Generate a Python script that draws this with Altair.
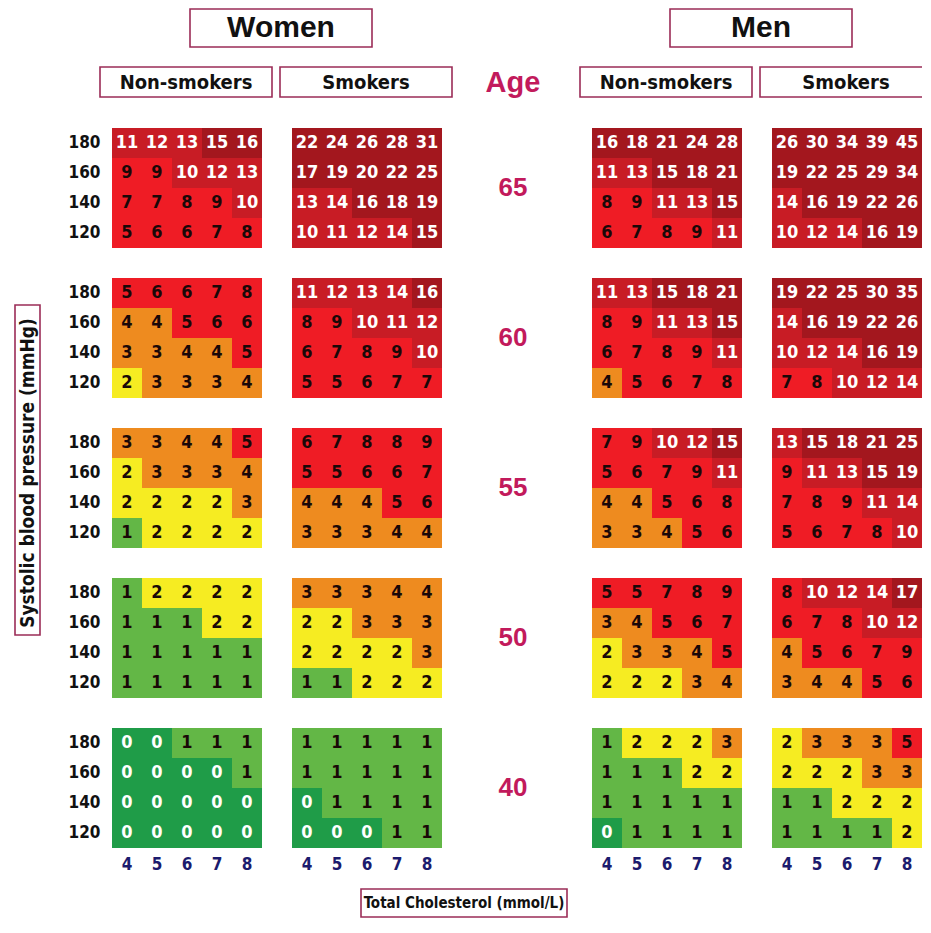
import altair as alt
import pandas as pd

# ---------------- data ----------------
chol_levels = [4, 5, 6, 7, 8]
sbp_levels = [180, 160, 140, 120]
age_levels = [65, 60, 55, 50, 40]

women_nonsmokers = {
    65: [[11, 12, 13, 15, 16], [9, 9, 10, 12, 13], [7, 7, 8, 9, 10], [5, 6, 6, 7, 8]],
    60: [[5, 6, 6, 7, 8], [4, 4, 5, 6, 6], [3, 3, 4, 4, 5], [2, 3, 3, 3, 4]],
    55: [[3, 3, 4, 4, 5], [2, 3, 3, 3, 4], [2, 2, 2, 2, 3], [1, 2, 2, 2, 2]],
    50: [[1, 2, 2, 2, 2], [1, 1, 1, 2, 2], [1, 1, 1, 1, 1], [1, 1, 1, 1, 1]],
    40: [[0, 0, 1, 1, 1], [0, 0, 0, 0, 1], [0, 0, 0, 0, 0], [0, 0, 0, 0, 0]],
}
women_smokers = {
    65: [[22, 24, 26, 28, 31], [17, 19, 20, 22, 25], [13, 14, 16, 18, 19], [10, 11, 12, 14, 15]],
    60: [[11, 12, 13, 14, 16], [8, 9, 10, 11, 12], [6, 7, 8, 9, 10], [5, 5, 6, 7, 7]],
    55: [[6, 7, 8, 8, 9], [5, 5, 6, 6, 7], [4, 4, 4, 5, 6], [3, 3, 3, 4, 4]],
    50: [[3, 3, 3, 4, 4], [2, 2, 3, 3, 3], [2, 2, 2, 2, 3], [1, 1, 2, 2, 2]],
    40: [[1, 1, 1, 1, 1], [1, 1, 1, 1, 1], [0, 1, 1, 1, 1], [0, 0, 0, 1, 1]],
}
men_nonsmokers = {
    65: [[16, 18, 21, 24, 28], [11, 13, 15, 18, 21], [8, 9, 11, 13, 15], [6, 7, 8, 9, 11]],
    60: [[11, 13, 15, 18, 21], [8, 9, 11, 13, 15], [6, 7, 8, 9, 11], [4, 5, 6, 7, 8]],
    55: [[7, 9, 10, 12, 15], [5, 6, 7, 9, 11], [4, 4, 5, 6, 8], [3, 3, 4, 5, 6]],
    50: [[5, 5, 7, 8, 9], [3, 4, 5, 6, 7], [2, 3, 3, 4, 5], [2, 2, 2, 3, 4]],
    40: [[1, 2, 2, 2, 3], [1, 1, 1, 2, 2], [1, 1, 1, 1, 1], [0, 1, 1, 1, 1]],
}
men_smokers = {
    65: [[26, 30, 34, 39, 45], [19, 22, 25, 29, 34], [14, 16, 19, 22, 26], [10, 12, 14, 16, 19]],
    60: [[19, 22, 25, 30, 35], [14, 16, 19, 22, 26], [10, 12, 14, 16, 19], [7, 8, 10, 12, 14]],
    55: [[13, 15, 18, 21, 25], [9, 11, 13, 15, 19], [7, 8, 9, 11, 14], [5, 6, 7, 8, 10]],
    50: [[8, 10, 12, 14, 17], [6, 7, 8, 10, 12], [4, 5, 6, 7, 9], [3, 4, 4, 5, 6]],
    40: [[2, 3, 3, 3, 5], [2, 2, 2, 3, 3], [1, 1, 2, 2, 2], [1, 1, 1, 1, 2]],
}

panel_keys = ["WN", "WS", "MN", "MS"]
panel_tables = [women_nonsmokers, women_smokers, men_nonsmokers, men_smokers]
subheader_labels = ["Non-smokers", "Smokers", "Non-smokers", "Smokers"]
header_labels = ["Women", "Men"]

risk_bands = ["<1", "1", "2", "3-4", "5-9", "10-14", ">=15"]
risk_colors = ["#1f9c48", "#63b746", "#f6ec22", "#ee8b1f", "#ef1c25", "#c81c25", "#a3171e"]

# ---------------- helpers ----------------
def band_of(r):
    if r < 1:
        return "<1"
    if r == 1:
        return "1"
    if r == 2:
        return "2"
    if r <= 4:
        return "3-4"
    if r <= 9:
        return "5-9"
    if r <= 14:
        return "10-14"
    return ">=15"


rows = []
for pk, table in zip(panel_keys, panel_tables):
    for age in age_levels:
        for i, s in enumerate(sbp_levels):
            for j, c in enumerate(chol_levels):
                r = table[age][i][j]
                rows.append(dict(panel=pk, age=age, sbp=s, chol=c, risk=r,
                                 band=band_of(r), xk=f"{pk}{c}", yk=f"{age}_{s}"))
cells = pd.DataFrame(rows)

# discrete layout domains (spacer bands between panels / blocks)
xdom = ([f"WN{c}" for c in chol_levels] + ["G1"] + [f"WS{c}" for c in chol_levels]
        + [f"A{i}" for i in range(1, 6)]
        + [f"MN{c}" for c in chol_levels] + ["G2"] + [f"MS{c}" for c in chol_levels])
ydom = ["H1", "H2", "H3", "H4"]
for k, age in enumerate(age_levels):
    ydom += [f"{age}_{s}" for s in sbp_levels]
    if k < len(age_levels) - 1:
        ydom.append(f"S{k}")
ydom.append("XL")

xsc = alt.Scale(domain=xdom, paddingInner=0, paddingOuter=0)
ysc = alt.Scale(domain=ydom, paddingInner=0, paddingOuter=0)

NARROW = "DejaVu Sans Condensed, Liberation Sans, sans-serif"
BOLD = "Liberation Sans, Arial, sans-serif"
BOX = "#9b2c57"
AGE_COLOR = "#c21a5c"

yaxis = alt.Axis(labelExpr="length(datum.value) == 6 ? substring(datum.value, 3) : ''",
                 ticks=False, domain=False, grid=False, labelOverlap=False,
                 labelFont=NARROW, labelFontWeight="bold", labelFontSize=17,
                 labelColor="#111111", labelPadding=12, title=None)


def X(field, **kw):
    return alt.X(field, type="nominal", scale=xsc, axis=None, title=None, **kw)


def Y(field, **kw):
    return alt.Y(field, type="nominal", scale=ysc, axis=yaxis, title=None, **kw)


# ---------------- layers ----------------
cell_rect = alt.Chart(cells).mark_rect().encode(
    x=X("xk"), y=Y("yk"),
    color=alt.Color("band:N", scale=alt.Scale(domain=risk_bands, range=risk_colors), legend=None),
)
cell_text = alt.Chart(cells).mark_text(font=NARROW, fontWeight="bold", fontSize=18).encode(
    x=X("xk"), y=Y("yk"), text="risk:Q",
    color=alt.condition("datum.risk < 1 || datum.risk >= 10", alt.value("white"), alt.value("#1a0808")),
)

xl = pd.DataFrame([dict(xk=f"{pk}{c}", yk="XL", label=str(c)) for pk in panel_keys for c in chol_levels])
x_labels = alt.Chart(xl).mark_text(font=NARROW, fontWeight="bold", fontSize=17, color="#1b1b6e", dy=2).encode(
    x=X("xk"), y=Y("yk"), text="label:N")

ages_df = pd.DataFrame(dict(xk=["A3"] * len(age_levels), yk=[f"{a}_160" for a in age_levels],
                            label=[str(a) for a in age_levels]))
age_text = alt.Chart(ages_df).mark_text(font=BOLD, fontWeight="bold", fontSize=26, color=AGE_COLOR,
                                        xOffset=-4).encode(
    x=X("xk"), y=Y("yk", bandPosition=1), text="label:N")

age_head = alt.Chart(pd.DataFrame(dict(xk=["A3"], yk=["H3"], label=["Age"]))).mark_text(
    font=BOLD, fontWeight="bold", fontSize=29, color=AGE_COLOR, xOffset=-4).encode(
    x=X("xk"), y=Y("yk"), text="label:N")

# sub headers
sub_df = pd.DataFrame(dict(label=subheader_labels,
                           x0=[f"{p}4" for p in panel_keys], x1=[f"{p}8" for p in panel_keys],
                           xc=[f"{p}6" for p in panel_keys], yk=["H3"] * 4))
sub_box = alt.Chart(sub_df).mark_rect(fill="white", stroke=BOX, strokeWidth=1.6, xOffset=-12, x2Offset=10,
                                      yOffset=-1).encode(
    x=X("x0", bandPosition=0), x2=alt.X2("x1", bandPosition=1), y=Y("yk"))
sub_text = alt.Chart(sub_df).mark_text(font=NARROW, fontWeight="bold", fontSize=20, color="#111111",
                                       xOffset=-1).encode(
    x=X("xc"), y=Y("yk"), text="label:N")

# main headers
head_df = pd.DataFrame(dict(label=header_labels, x0=["WN6", "MN6"], x1=["WS6", "MS6"], xc=["G1", "G2"],
                            y0=["H1", "H1"], y1=["H2", "H2"]))
head_box = alt.Chart(head_df).mark_rect(fill="white", stroke=BOX, strokeWidth=1.6, yOffset=1,
                                        xOffset=3, x2Offset=5).encode(
    x=X("x0", bandPosition=0.5), x2=alt.X2("x1", bandPosition=0.5),
    y=Y("y0", bandPosition=0), y2=alt.Y2("y1", bandPosition=0.3))
head_text = alt.Chart(head_df).mark_text(font=BOLD, fontWeight="bold", fontSize=30, color="#111111",
                                         dy=5, xOffset=4).encode(
    x=X("xc"), y=Y("y0"), text="label:N")

# y title with box
yt_df = pd.DataFrame(dict(label=["Systolic blood pressure (mmHg)"], xk=["WN4"], y0=["60_180"], y1=["50_160"],
                          yc=["55_160"]))
yt_box = alt.Chart(yt_df).mark_rect(fill="white", stroke=BOX, strokeWidth=1.6, xOffset=-97, x2Offset=-72).encode(
    x=X("xk", bandPosition=0), x2=alt.X2("xk", bandPosition=0),
    y=Y("y0", bandPosition=0.9), y2=alt.Y2("y1", bandPosition=0.9))
yt_text = alt.Chart(yt_df).mark_text(font=NARROW, fontWeight="bold", fontSize=19, color="#111111",
                                     angle=270, xOffset=-84).encode(
    x=X("xk", bandPosition=0), y=Y("yc"), text="label:N")

# x title with box
xt_df = pd.DataFrame(dict(label=["Total Cholesterol (mmol/L)"], xk=["A1"], yk=["XL"]))
xt_box = alt.Chart(xt_df).mark_rect(fill="white", stroke=BOX, strokeWidth=1.6, xOffset=-96, x2Offset=110,
                                    yOffset=11, y2Offset=39).encode(
    x=X("xk", bandPosition=0.5), x2=alt.X2("xk", bandPosition=0.5),
    y=Y("yk", bandPosition=1), y2=alt.Y2("yk", bandPosition=1))
xt_text = alt.Chart(xt_df).mark_text(font=NARROW, fontWeight="bold", fontSize=15, color="#111111",
                                     xOffset=7, yOffset=25).encode(
    x=X("xk", bandPosition=0.5), y=Y("yk", bandPosition=1), text="label:N")

chart = alt.layer(
    cell_rect, cell_text, x_labels, age_text, age_head,
    sub_box, sub_text, head_box, head_text, yt_box, yt_text, xt_box, xt_text,
).properties(
    width=810, height=870,
    padding={"left": 104, "top": 0, "right": 0, "bottom": 40},
    autosize=alt.AutoSizeParams(type="none"),
    background="white",
).configure_view(stroke=None)

chart.save("out.html", embed_options={"renderer": "svg", "actions": False})
